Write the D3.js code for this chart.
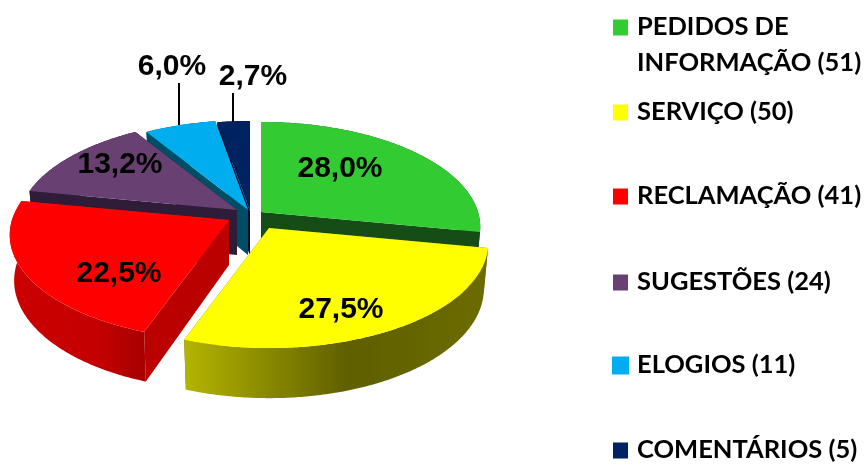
<!DOCTYPE html>
<html>
<head>
<meta charset="utf-8">
<script src="https://cdn.jsdelivr.net/npm/d3@7"></script>
<style>
  html, body { margin: 0; padding: 0; background: #fff; }
  svg { display: block; }
  .pct { font-family: "Liberation Sans", Arial, sans-serif; font-weight: bold; font-size: 30px; fill: #000; text-anchor: middle; }
  .leg { font-family: Lato, "Noto Sans", sans-serif; font-weight: bold; font-size: 25.5px; fill: #000; }
</style>
</head>
<body>
<script>
// Data
let categories = ["PEDIDOS DE INFORMAÇÃO", "SERVIÇO", "RECLAMAÇÃO", "SUGESTÕES", "ELOGIOS", "COMENTÁRIOS"];
let values = [51, 50, 41, 24, 11, 5];
let pctLabels = ["28,0%", "27,5%", "22,5%", "13,2%", "6,0%", "2,7%"];

// Colours per slice
let topColors = ["#33cc33", "#ffff00", "#ff0000", "#674172", "#00aeef", "#002060"];
let faceColors = ["#144d14", "#6b6b00", "#bb0000", "#2e1a38", "#004d66", "#001030"];

// Layout: exploded apex of each slice and label anchors
let apexX = [261, 269, 229, 237, 248, 250];
let apexY = [212, 228, 220, 210, 210, 211];
let labelX = [340, 341, 119, 120, 172, 253];
let labelY = [177, 318, 282, 173, 75, 85];
let legendY = [35, 120, 204, 290, 373, 458];
let swatchSize = [15, 15, 15, 15, 17, 15];

const width = 866, height = 464;
const R = 217, S = 102.9, k = 1 / 7;   // perspective of the disc
const depth = 45, shrink = 0.98;       // extrusion of the bottom face

let svg = d3.select("body").append("svg")
    .attr("width", width)
    .attr("height", height);

let defs = svg.append("defs");
let yellowGrad = defs.append("linearGradient").attr("id", "sideYellow");
[["0%", "#b4b400"], ["54%", "#5f5f00"], ["100%", "#6c6c00"]].forEach(s =>
    yellowGrad.append("stop").attr("offset", s[0]).attr("stop-color", s[1]));
let redGrad = defs.append("linearGradient").attr("id", "sideRed");
[["0%", "#cc0000"], ["65%", "#c40000"], ["100%", "#a60000"]].forEach(s =>
    redGrad.append("stop").attr("offset", s[0]).attr("stop-color", s[1]));
// the reference is a soft upscaled image
defs.append("filter").attr("id", "soft")
    .append("feGaussianBlur").attr("stdDeviation", 0.45);

let root = svg.append("g").attr("filter", "url(#soft)");

// unit disc -> screen offset from the apex, w is the perspective divisor
function project(a) {
    let u = Math.sin(a), v = -Math.cos(a), w = 1 - k * v;
    return [R * u / w, S * v / w, w];
}

let pie = d3.pie().sort(null).startAngle(0).endAngle(2 * Math.PI);
let arcs = pie(values);
let line = d3.line().curve(d3.curveLinear);

function topPt(i, a) {
    let p = project(a);
    return [apexX[i] + p[0], apexY[i] + p[1]];
}
function botPt(i, a) {
    let p = project(a);
    return [apexX[i] + p[0] * shrink, apexY[i] + p[1] * shrink + depth / p[2]];
}
function angles(d) {
    return d3.range(d.startAngle, d.endAngle, 0.01).concat([d.endAngle]);
}

// back slices first, the two front ones last
let order = [5, 4, 3, 0, 2, 1];
order.forEach(i => {
    let d = arcs[i], as = angles(d);
    let g = root.append("g").attr("class", "slice");
    let apexTop = [apexX[i], apexY[i]], apexBot = [apexX[i], apexY[i] + depth];

    // cut faces
    [d.startAngle, d.endAngle].forEach(a => {
        g.append("path")
            .attr("d", line([apexTop, topPt(i, a), botPt(i, a), apexBot]) + "Z")
            .attr("fill", faceColors[i]);
    });

    // outer wall
    let wall = as.map(a => topPt(i, a)).concat(as.slice().reverse().map(a => botPt(i, a)));
    g.append("path")
        .attr("d", line(wall) + "Z")
        .attr("fill", i === 1 ? "url(#sideYellow)" : i === 2 ? "url(#sideRed)" : faceColors[i]);

    // top surface
    g.append("path")
        .attr("d", line([apexTop].concat(as.map(a => topPt(i, a)))) + "Z")
        .attr("fill", topColors[i]);
});

// leader lines of the two small slices
[[83, 125, 179], [93, 122, 233]].forEach(l => {
    root.append("line")
        .attr("x1", l[2]).attr("x2", l[2])
        .attr("y1", l[0]).attr("y2", l[1])
        .attr("stroke", "#000").attr("stroke-width", 2);
});

// percent labels
root.selectAll(".pct")
    .data(pctLabels)
    .enter().append("text")
    .attr("class", "pct")
    .attr("x", (d, i) => labelX[i])
    .attr("y", (d, i) => labelY[i])
    .text(d => d);

// legend
let legend = root.selectAll(".legItem")
    .data(categories)
    .enter().append("g")
    .attr("class", "legItem");

legend.append("rect")
    .attr("x", (d, i) => 620.5 - swatchSize[i] / 2)
    .attr("y", (d, i) => legendY[i] - 8 - swatchSize[i] / 2)
    .attr("width", (d, i) => swatchSize[i])
    .attr("height", (d, i) => swatchSize[i] + 1)
    .attr("fill", (d, i) => topColors[i]);

legend.each(function(d, i) {
    let t = d3.select(this).append("text")
        .attr("class", "leg")
        .attr("x", 637)
        .attr("y", legendY[i]);
    if (i === 0) {
        t.text("PEDIDOS DE");
        d3.select(this).append("text")
            .attr("class", "leg")
            .attr("x", 637)
            .attr("y", legendY[i] + 36)
            .text("INFORMAÇÃO (" + values[i] + ")");
    } else {
        t.text(d + " (" + values[i] + ")");
    }
});
</script>
</body>
</html>
